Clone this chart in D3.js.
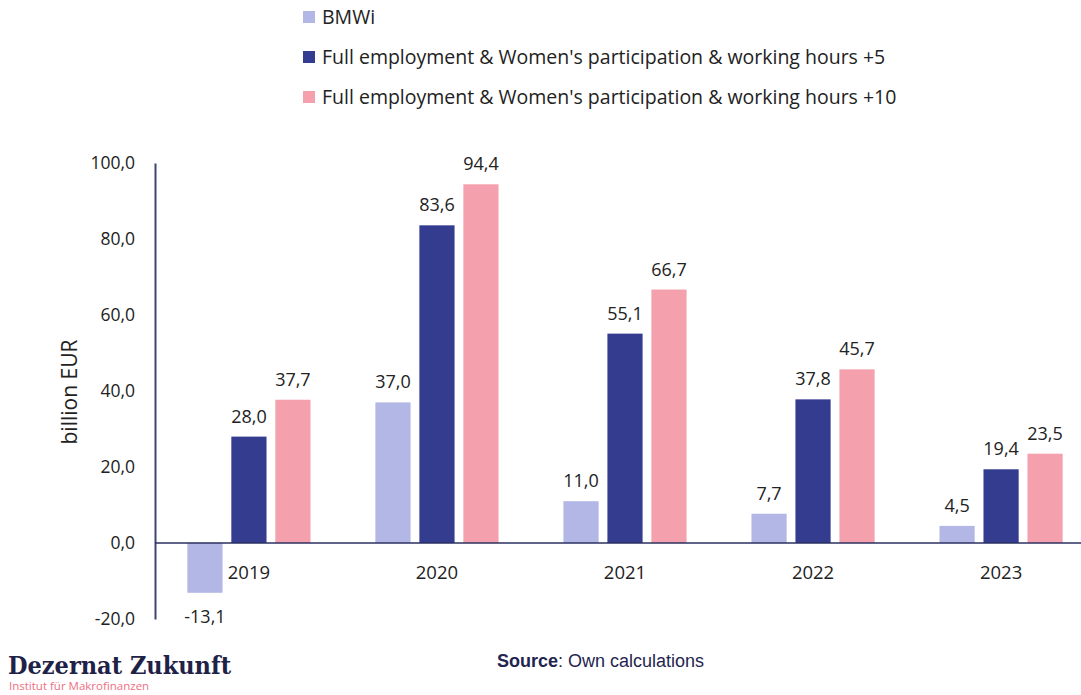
<!DOCTYPE html>
<html>
<head>
<meta charset="utf-8">
<script src="https://cdn.jsdelivr.net/npm/d3@7"></script>
<style>
  body { margin: 0; background: #fff; }
  text { font-family: "Open Sans", sans-serif; fill: #222; }
</style>
</head>
<body>
<div id="chart"></div>
<script>
// data
var years = ["2019", "2020", "2021", "2022", "2023"];
var seriesNames = [
  "BMWi",
  "Full employment & Women's participation & working hours +5",
  "Full employment & Women's participation & working hours +10"
];
var bmwi = [-13.1, 37.0, 11.0, 7.7, 4.5];
var plus5 = [28.0, 83.6, 55.1, 37.8, 19.4];
var plus10 = [37.7, 94.4, 66.7, 45.7, 23.5];
var yTicks = [-20, 0, 20, 40, 60, 80, 100];
var colors = ["#b3b7e5", "#343c8f", "#f5a1ad"];

var svgWidth = 1081, svgHeight = 695;
var svg = d3.select("#chart").append("svg")
  .attr("width", svgWidth)
  .attr("height", svgHeight);

// comma decimals, plain hyphen for negatives
var fmt = function (v) { return d3.format(".1f")(v).replace(".", ",").replace("\u2212", "-"); };

var y = d3.scaleLinear().domain([-20, 100]).range([619, 163]);
var x0 = d3.scaleBand().domain(years).range([155, 1095]).paddingInner(0.345).paddingOuter(0.172);
var x1 = d3.scaleBand().domain([0, 1, 2]).range([0, x0.bandwidth()]).paddingInner(0.2);

var values = [bmwi, plus5, plus10];
var barData = [];
values.forEach(function (arr, s) {
  arr.forEach(function (v, i) { barData.push({ year: years[i], s: s, v: v }); });
});

// bars
svg.append("g").selectAll("rect")
  .data(barData)
  .enter()
  .append("rect")
  .attr("x", d => x0(d.year) + x1(d.s))
  .attr("width", x1.bandwidth())
  .attr("y", d => y(Math.max(0, d.v)))
  .attr("height", d => Math.abs(y(d.v) - y(0)))
  .attr("fill", d => colors[d.s]);

// value labels
svg.append("g").selectAll("text")
  .data(barData)
  .enter()
  .append("text")
  .attr("x", d => x0(d.year) + x1(d.s) + x1.bandwidth() / 2)
  .attr("y", d => d.v >= 0 ? y(d.v) - 14 : y(-20) + 4)
  .attr("text-anchor", "middle")
  .style("font-size", "18px")
  .text(d => fmt(d.v));

// y axis
var leftAxis = d3.axisLeft(y).tickValues(yTicks).tickSize(0).tickPadding(20).tickFormat(fmt);
var yAxis = svg.append("g")
  .attr("transform", "translate(155,0)")
  .call(leftAxis);
yAxis.select(".domain").attr("stroke", "#3d4670").attr("stroke-width", 2);
yAxis.selectAll("text").style("font-size", "17.5px").attr("fill", "#222");

// zero line
svg.append("line")
  .attr("x1", 155).attr("x2", svgWidth)
  .attr("y1", y(0)).attr("y2", y(0))
  .attr("stroke", "#2b3160").attr("stroke-width", 1.5);

// category labels
svg.append("g").selectAll("text")
  .data(years)
  .enter()
  .append("text")
  .attr("x", d => x0(d) + x0.bandwidth() / 2)
  .attr("y", y(0) + 36)
  .attr("text-anchor", "middle")
  .style("font-size", "18.5px")
  .text(d => d);

// y axis title
svg.append("text")
  .attr("transform", "rotate(-90)")
  .attr("x", -392)
  .attr("y", 77)
  .attr("text-anchor", "middle")
  .style("font-size", "21px")
  .text("billion EUR");

// legend
var legend = svg.append("g").selectAll("g")
  .data(seriesNames)
  .enter()
  .append("g")
  .attr("transform", (d, i) => `translate(303, ${17 + i * 40})`);
legend.append("rect")
  .attr("x", 0).attr("y", -6)
  .attr("width", 12).attr("height", 12)
  .attr("fill", (d, i) => colors[i]);
legend.append("text")
  .attr("x", 19).attr("y", 7)
  .style("font-size", "19.5px")
  .text(d => d);

// source
var src = svg.append("text")
  .attr("x", 497).attr("y", 667)
  .style("font-family", "'Liberation Sans', Arial, sans-serif")
  .style("font-size", "18px");
src.append("tspan").attr("font-weight", "bold").style("fill", "#1f2550").text("Source");
src.append("tspan").style("fill", "#1f2550").text(": Own calculations");

// logo
svg.append("text")
  .attr("x", 8).attr("y", 674)
  .style("font-family", "'DejaVu Serif Condensed', 'DejaVu Serif', serif")
  .style("font-weight", "bold")
  .style("font-size", "25px")
  .style("fill", "#1f2247")
  .text("Dezernat Zukunft");
svg.append("text")
  .attr("x", 9).attr("y", 690)
  .style("font-size", "11.5px")
  .style("fill", "#ef6f82")
  .text("Institut für Makrofinanzen");
</script>
</body>
</html>
